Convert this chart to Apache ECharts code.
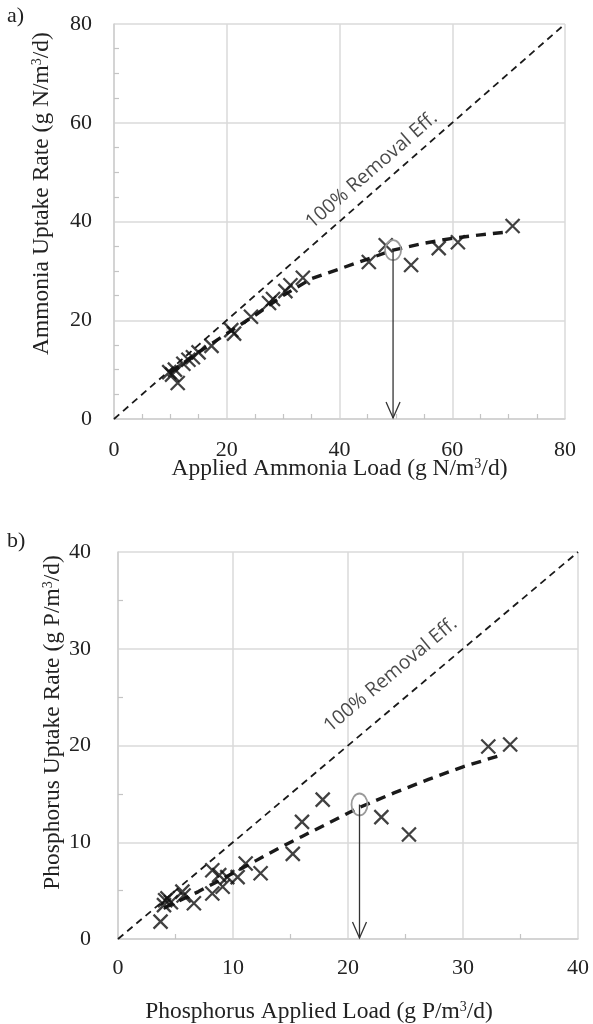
<!DOCTYPE html>
<html><head><meta charset="utf-8">
<script src="https://cdn.jsdelivr.net/npm/echarts@6/dist/echarts.min.js"></script>
<style>html,body{margin:0;padding:0;background:#fff}#c{width:593px;height:1024px}</style>
</head><body><div id="c"></div><script>
// Panel a: ammonia
const aLoad   = [9.8, 10.3, 10.8, 11.3, 12.3, 13.2, 14.0, 15.0, 17.3, 20.8, 21.3, 24.3, 27.5, 28.2, 30.4, 31.3, 33.5, 45.2, 48.2, 52.7, 57.6, 61.0, 70.7];
const aUptake = [9.5, 9.0, 10.0, 7.3, 11.2, 12.0, 12.5, 13.5, 14.8, 18.0, 17.3, 20.7, 23.5, 24.3, 25.9, 27.1, 28.6, 31.8, 35.2, 31.2, 34.6, 35.8, 39.1];
const aFitX = [10, 15, 20, 25, 30, 35, 40, 45, 49.5, 55, 60, 65, 70];
const aFitY = [9.5, 13.5, 17.3, 21.0, 25.0, 28.4, 30.4, 32.4, 34.2, 35.6, 36.6, 37.3, 37.9];
const aMarked = [49.5, 34.2];
const aRange = [0, 80], aStep = 20;
// Panel b: phosphorus
const bLoad   = [3.7, 4.0, 4.1, 4.3, 4.6, 5.6, 5.7, 6.6, 8.2, 8.2, 8.8, 9.1, 9.5, 10.4, 11.1, 12.4, 15.2, 16.0, 17.8, 22.9, 25.3, 32.2, 34.1];
const bUptake = [1.8, 3.5, 4.0, 4.2, 3.8, 4.9, 4.5, 3.7, 7.1, 4.7, 6.6, 5.4, 6.4, 6.4, 7.8, 6.8, 8.8, 12.1, 14.4, 12.6, 10.8, 19.9, 20.1];
const bFitX = [4, 7, 10, 12, 14, 16, 18, 21, 24, 27, 30, 33.3];
const bFitY = [3.2, 4.9, 6.8, 8.1, 9.4, 10.6, 11.8, 13.6, 15.1, 16.5, 17.8, 19.0];
const bMarked = [21.0, 13.9];
const bRange = [0, 40], bStep = 10;
const refLabel = '100% Removal Eff.';
const aRefLabelPos = [45.7, 50.4];
const bRefLabelPos = [23.7, 27.3];

const zip = (xs, ys) => xs.map((x, i) => [x, ys[i]]);
const serif = 'Liberation Serif';
const XSYM = 'path://M0,0L10,10M10,0L0,10';

function axisBase(range, step, minorSplit, labelMargin) {
  return {
    type: 'value', min: range[0], max: range[1], interval: step,
    nameMoveOverlap: false,
    axisLine: {show: true, lineStyle: {color: '#cfcfcf', width: 1.5}},
    axisTick: {show: false, inside: true},
    minorTick: {show: true, splitNumber: minorSplit, length: 5, lineStyle: {color: '#c4c4c4', width: 1.2}},
    splitLine: {show: true, lineStyle: {color: '#dadada', width: 1.5}},
    axisLabel: {fontFamily: serif, fontSize: 22, color: '#222', margin: labelMargin}
  };
}
function richName(pre, post) {
  return '{n|' + pre + '}{s|3}{n|' + post + '}';
}
const richStyle = {
  n: {fontFamily: serif, fontSize: 23.5, color: '#222'},
  s: {fontFamily: serif, fontSize: 14, color: '#222', padding: [0, 0, 9, 0]}
};

function markSeries(xi, pt, rx, ry) {
  return {
    type: 'custom', xAxisIndex: xi, yAxisIndex: xi, data: [pt], silent: true, z: 6,
    renderItem: function (params, api) {
      const c = api.coord([api.value(0), api.value(1)]);
      const b = api.coord([api.value(0), 0]);
      const e = 'M' + (c[0] - rx) + ' ' + c[1] + ' A' + rx + ' ' + ry + ' 0 1 0 ' + (c[0] + rx) + ' ' + c[1] +
                ' A' + rx + ' ' + ry + ' 0 1 0 ' + (c[0] - rx) + ' ' + c[1] + ' Z';
      return {type: 'group', children: [
        {type: 'path', shape: {pathData: e}, style: {fill: 'none', stroke: '#9a9a9a', lineWidth: 1.8}},
        {type: 'line', shape: {x1: c[0], y1: c[1], x2: b[0], y2: b[1] - 1}, style: {stroke: '#333', lineWidth: 1.3}},
        {type: 'polyline', shape: {points: [[b[0] - 7, b[1] - 17], [b[0], b[1] - 1], [b[0] + 7, b[1] - 17]]},
         style: {fill: 'none', stroke: '#333', lineWidth: 1.3}}
      ]};
    }
  };
}
function panelSeries(i, load, upt, fx, fy, range, labelPos, rot) {
  return [
    {type: 'line', xAxisIndex: i, yAxisIndex: i, data: [[range[0], range[0]], [range[1], range[1]]],
     symbol: 'none', silent: true, z: 3, lineStyle: {color: '#1a1a1a', width: 1.8, type: [7, 5]}},
    {type: 'line', xAxisIndex: i, yAxisIndex: i, data: zip(fx, fy), symbol: 'none', silent: true, z: 4,
     lineStyle: {color: '#1a1a1a', width: 3.4, type: [10, 7]}},
    {type: 'scatter', xAxisIndex: i, yAxisIndex: i, data: zip(load, upt), symbol: XSYM, symbolSize: 14, z: 5,
     itemStyle: {color: 'transparent', borderColor: '#111', borderWidth: 2.3}},
    {type: 'scatter', xAxisIndex: i, yAxisIndex: i, data: [labelPos], symbolSize: 0, silent: true, z: 7,
     label: {show: true, position: 'inside', formatter: refLabel, rotate: rot,
             fontFamily: 'Open Sans', fontSize: 19.5, color: '#1a1a1a'}}
  ];
}

const xa = axisBase(aRange, aStep, 4, 20);
Object.assign(xa, {gridIndex: 0, name: richName('Applied Ammonia Load (g N/m', '/d)'), nameLocation: 'middle', nameGap: 38,
  nameTextStyle: {rich: richStyle}});
const ya = axisBase(aRange, aStep, 4, 22);
Object.assign(ya, {gridIndex: 0, name: richName('Ammonia Uptake Rate (g N/m', '/d)'), nameLocation: 'middle', nameGap: 60,
  nameTextStyle: {rich: richStyle, padding: [0, 0, 0, 56]}});
const xb = axisBase(bRange, bStep, 2, 18);
Object.assign(xb, {gridIndex: 1, name: richName('Phosphorus Applied Load (g P/m', '/d)'), nameLocation: 'middle', nameGap: 61,
  nameTextStyle: {rich: richStyle, padding: [0, 58, 0, 0]}});
const yb = axisBase(bRange, bStep, 2, 27);
Object.assign(yb, {gridIndex: 1, name: richName('Phosphorus Uptake Rate (g P/m', '/d)'), nameLocation: 'middle', nameGap: 53,
  nameTextStyle: {rich: richStyle, padding: [0, 0, 0, 46]}});

const chart = echarts.init(document.getElementById('c'), null, {renderer: 'canvas'});
chart.setOption({
  backgroundColor: '#fff',
  animation: false,
  grid: [
    {left: 114, top: 24, width: 451, height: 395, outerBoundsMode: 'none', containLabel: false},
    {left: 118, top: 552, width: 460, height: 387, outerBoundsMode: 'none', containLabel: false}
  ],
  xAxis: [xa, xb],
  yAxis: [ya, yb],
  graphic: [
    {type: 'text', left: 7, top: 5, style: {text: 'a)', fontFamily: serif, fontSize: 22, fill: '#222'}},
    {type: 'text', left: 7, top: 530, style: {text: 'b)', fontFamily: serif, fontSize: 22, fill: '#222'}}
  ],
  series: [].concat(
    panelSeries(0, aLoad, aUptake, aFitX, aFitY, aRange, aRefLabelPos, 41),
    [markSeries(0, aMarked, 8, 10)],
    panelSeries(1, bLoad, bUptake, bFitX, bFitY, bRange, bRefLabelPos, 40),
    [markSeries(1, bMarked, 8, 11)]
  )
});
</script></body></html>
